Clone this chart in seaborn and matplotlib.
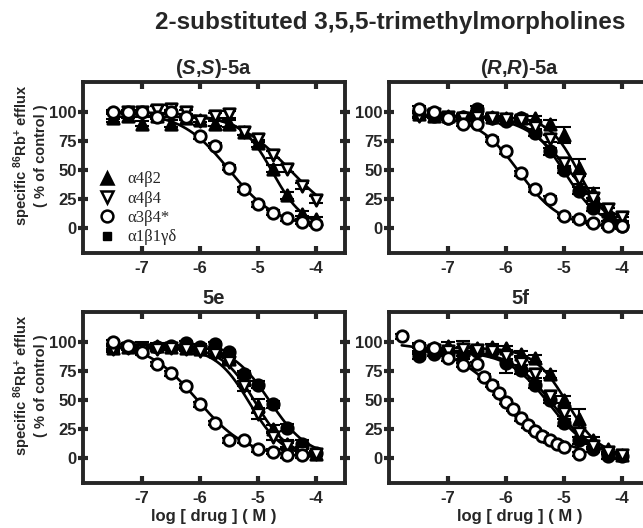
import numpy as np
import pandas as pd
import matplotlib
matplotlib.use("Agg")
import matplotlib.pyplot as plt
import seaborn as sns
from matplotlib.lines import Line2D

# ---------------- data ----------------
panels = ["SS", "RR", "5e", "5f"]
panel_titles = ["($\\it{S}$,$\\it{S}$)-5a", "($\\it{R}$,$\\it{R}$)-5a", "5e", "5f"]
series_names = ["a1b1gd", "a4b2", "a4b4", "a3b4"]
legend_labels = ["α4β2", "α4β4", "α3β4*", "α1β1γδ"]

log_conc = [-7.5, -7.25, -7.0, -6.75, -6.5, -6.25, -6.0, -5.75, -5.5, -5.25, -5.0, -4.75, -4.5, -4.25, -4.0]
log_conc_5f_a3b4 = [-7.8, -7.5, -7.25, -7.0, -6.75, -6.5, -6.375, -6.25, -6.125, -6.0, -5.875,
                    -5.75, -5.625, -5.5, -5.375, -5.25, -5.125, -5.0, -4.75]

# (S,S)-5a
ss_a4b2 = [95, 97, 90, 97, 90, 95, 93, 90, 90, 83, 73, 51, 28, 12, 7]
ss_a4b4 = [97, 100, 100, 102, 103, 100, 92, 97, 98, 83, 77, 63, 51, 36, 24]
ss_a3b4 = [100, 100, 100, 96, 100, 96, 79, 71, 52, 33, 20, 13, 8, 5, 3]
ss_a4b2_err = [4, 2, 2, 2, 3, 2, 2, 2, 3, 3, 3, 3, 3, 2, 2]
ss_a4b4_err = [3, 2, 2, 3, 3, 2, 3, 2, 3, 3, 3, 3, 3, 3, 3]
ss_a3b4_err = [2, 2, 2, 2, 2, 2, 2, 2, 2, 2, 2, 2, 2, 2, 2]

# (R,R)-5a
rr_a1b1gd = [98, 97, 95, 96, 103, 95, 92, 95, 82, 66, 50, 32, 17, 4, 1.5]
rr_a4b2 = [98, 97, 97, 96, 97, 96, 95, 95, 95, 90, 80, 52, 30, 14, 7]
rr_a4b4 = [97, 98, 96, 95, 96, 95, 94, 93, 87, 77, 56, 42, 26, 16, 9]
rr_a3b4 = [103, 100, 95, 90, 90, 76, 66, 47, 33, 25, 10, 7, 4, 1.5, 1]
rr_a1b1gd_err = [2, 2, 2, 2, 2, 2, 2, 2, 3, 3, 3, 3, 3, 2, 2]
rr_a4b2_err = [3, 2, 2, 2, 2, 2, 2, 2, 2, 3, 7, 7, 4, 3, 2]
rr_a4b4_err = [2, 2, 2, 2, 2, 2, 2, 2, 3, 3, 4, 4, 3, 4, 3]
rr_a3b4_err = [2, 2, 2, 2, 2, 2, 2, 2, 2, 2, 2, 2, 2, 2, 2]

# 5e
e_a1b1gd = [96, 96, 95, 96, 97, 99, 96, 98, 91, 72, 63, 46, 26, 12, 4]
e_a4b2 = [95, 96, 95, 97, 96, 95, 94, 92, 85, 68, 45, 25, 12, 6, 3]
e_a4b4 = [94, 95, 93, 94, 95, 94, 92, 90, 83, 62, 38, 18, 10, 5, 3]
e_a3b4 = [100, 97, 91, 81, 73, 62, 46, 30, 15, 15, 7, 5, 2, 2, np.nan]
e_a1b1gd_err = [2, 2, 2, 2, 2, 2, 2, 2, 2, 3, 3, 3, 3, 3, 2]
e_a4b2_err = [3, 2, 5, 2, 2, 2, 2, 2, 3, 6, 6, 3, 3, 2, 2]
e_a4b4_err = [3, 2, 2, 2, 2, 2, 2, 2, 3, 4, 5, 3, 3, 2, 2]
e_a3b4_err = [2, 2, 2, 2, 2, 2, 2, 2, 2, 2, 2, 2, 2, 2, 0]

# 5f
f_a1b1gd = [88, 90, 90, 90, 92, 92, 82, 76, 63, 50, 30, 15, 7, 1, 1]
f_a4b2 = [95, 95, 97, 93, 95, 96, 95, 90, 86, 72, 50, 33, 15, 7, 2]
f_a4b4 = [93, 93, 92, 94, 93, 92, 88, 82, 72, 53, 39, 21, 10, 5, 2]
f_a3b4 = [105, 97, 95, 86, 80, 81, 70, 63, 56, 48, 42, 34, 28, 23, 19, 15, 12, 9, 3]
f_a1b1gd_err = [3, 2, 2, 2, 2, 2, 9, 4, 3, 3, 3, 3, 2, 2, 2]
f_a4b2_err = [3, 2, 3, 8, 2, 2, 2, 2, 3, 3, 3, 9, 3, 2, 2]
f_a4b4_err = [3, 2, 2, 2, 2, 2, 3, 5, 3, 3, 3, 3, 3, 2, 2]
f_a3b4_err = [2] * 19

# fitted Hill-curve parameters: (top, logIC50, slope)
fit_params = {
    "SS": {"a4b2": (96, -4.75, 1.6), "a4b4": (100, -4.45, 0.9), "a3b4": (100, -5.5, 1.05)},
    "RR": {"a1b1gd": (97, -5.0, 1.4), "a4b2": (96, -4.75, 1.7), "a4b4": (97, -4.9, 1.1),
           "a3b4": (97, -5.78, 1.2)},
    "5e": {"a1b1gd": (98, -4.8, 1.3), "a4b2": (96, -5.05, 1.5), "a4b4": (95, -5.15, 1.5),
           "a3b4": (100, -6.05, 1.0)},
    "5f": {"a1b1gd": (92, -5.25, 1.2), "a4b2": (95, -4.95, 1.5), "a4b4": (93, -5.2, 1.2),
           "a3b4": (100, -6.0, 0.85)},
}

data = {
    "SS": {"a4b2": (log_conc, ss_a4b2, ss_a4b2_err), "a4b4": (log_conc, ss_a4b4, ss_a4b4_err),
           "a3b4": (log_conc, ss_a3b4, ss_a3b4_err)},
    "RR": {"a1b1gd": (log_conc, rr_a1b1gd, rr_a1b1gd_err), "a4b2": (log_conc, rr_a4b2, rr_a4b2_err),
           "a4b4": (log_conc, rr_a4b4, rr_a4b4_err), "a3b4": (log_conc, rr_a3b4, rr_a3b4_err)},
    "5e": {"a1b1gd": (log_conc, e_a1b1gd, e_a1b1gd_err), "a4b2": (log_conc, e_a4b2, e_a4b2_err),
           "a4b4": (log_conc, e_a4b4, e_a4b4_err), "a3b4": (log_conc, e_a3b4, e_a3b4_err)},
    "5f": {"a1b1gd": (log_conc, f_a1b1gd, f_a1b1gd_err), "a4b2": (log_conc, f_a4b2, f_a4b2_err),
           "a4b4": (log_conc, f_a4b4, f_a4b4_err), "a3b4": (log_conc_5f_a3b4, f_a3b4, f_a3b4_err)},
}

x_ticks = [-7, -6, -5, -4]
y_ticks = [0, 25, 50, 75, 100]

# ---------------- style ----------------
sns.set_style("ticks")
plt.rcParams['font.family'] = ['Liberation Sans', 'DejaVu Sans']
plt.rcParams['font.weight'] = 'bold'
plt.rcParams['axes.labelweight'] = 'bold'
plt.rcParams['mathtext.fontset'] = 'custom'
plt.rcParams['mathtext.rm'] = 'Liberation Sans:bold'
plt.rcParams['mathtext.it'] = 'Liberation Sans:bold:italic'
plt.rcParams['mathtext.bf'] = 'Liberation Sans:bold'

styles = {
    "a4b2": dict(marker="^", fc="black"),
    "a4b4": dict(marker="v", fc="white"),
    "a3b4": dict(marker="o", fc="white"),
    "a1b1gd": dict(marker="o", fc="black"),
}

W, H = 643, 528
fig = plt.figure(figsize=(W / 100, H / 100), dpi=100)

def px_axes(x0, x1, ytop, ybot):
    return fig.add_axes([x0 / W, 1 - ybot / H, (x1 - x0) / W, (ybot - ytop) / H])

axes = [px_axes(83, 345, 82, 253), px_axes(389, 651, 82, 253),
        px_axes(83, 345, 312, 483), px_axes(389, 651, 312, 483)]

def hill(x, top, logic50, nh):
    return top / (1 + 10 ** ((x - logic50) * nh))

for i, (ax, pn) in enumerate(zip(axes, panels)):
    for sn in series_names:
        if sn not in data[pn]:
            continue
        xs, ys, es = data[pn][sn]
        xs = np.asarray(xs, float); ys = np.asarray(ys, float); es = np.asarray(es, float)
        top, ic, nh = fit_params[pn][sn]
        xc = np.linspace(xs.min(), xs.max(), 200)
        sns.lineplot(x=xc, y=hill(xc, top, ic, nh), color="black", lw=1.9, ax=ax, zorder=2)
        ax.errorbar(xs, ys, yerr=es, fmt="none", ecolor="black", elinewidth=1.5,
                    capsize=5, capthick=1.5, zorder=2.5)
        st = styles[sn]
        sns.scatterplot(x=xs, y=ys, marker=st["marker"], s=68, color="black",
                        facecolor=st["fc"], edgecolor="black", linewidth=2.0, ax=ax, zorder=3)

    ax.set_xlim(-8.02, -3.5)
    ax.set_ylim(-22, 126)
    ax.set_xticks(x_ticks)
    ax.set_yticks(y_ticks)
    ax.set_xticklabels([str(t) for t in x_ticks])
    ax.set_yticklabels([str(t) for t in y_ticks])
    for sp in ax.spines.values():
        sp.set_visible(True)
        sp.set_linewidth(2.8)
    ax.tick_params(axis="x", direction="in", length=5, width=3, top=True, bottom=True,
                   labelsize=12, pad=6)
    ax.tick_params(axis="y", direction="inout", length=7, width=3, left=True, right=True,
                   labelsize=12, pad=1)
    ax.set_title(panel_titles[i], fontsize=14.5, fontweight="bold", pad=6)
    ax.set_xlabel(""); ax.set_ylabel("")
    if i % 2 == 0:
        ax.text(-0.205, 0.57, "specific $^{86}$Rb$^{+}$ efflux\n( % of control )",
                rotation=90, ha="center", va="center", multialignment="center",
                transform=ax.transAxes, fontsize=10.5, fontweight="bold", linespacing=1.1)
    if i >= 2:
        ax.set_xlabel("log [ drug ] ( M )", fontsize=12, fontweight="bold", labelpad=2)

# legend in first panel
handles = [
    Line2D([], [], ls="none", marker="^", ms=8, mfc="black", mec="black", mew=1.8),
    Line2D([], [], ls="none", marker="v", ms=8.5, mfc="white", mec="black", mew=1.8),
    Line2D([], [], ls="none", marker="o", ms=8.5, mfc="white", mec="black", mew=1.8),
    Line2D([], [], ls="none", marker="s", ms=6, mfc="black", mec="black", mew=1),
]
axes[0].legend(handles, legend_labels, loc="upper left", bbox_to_anchor=(0.01, 0.545),
               frameon=False, handlelength=1.2, handletextpad=0.6, labelspacing=0.2,
               borderpad=0.2, prop={"family": "Liberation Serif", "weight": "normal", "size": 12})

fig.text(0.607, 0.958, "2-substituted 3,5,5-trimethylmorpholines", ha="center", va="center",
         fontsize=17.5, fontweight="bold")

fig.savefig("out.png", dpi=100)
